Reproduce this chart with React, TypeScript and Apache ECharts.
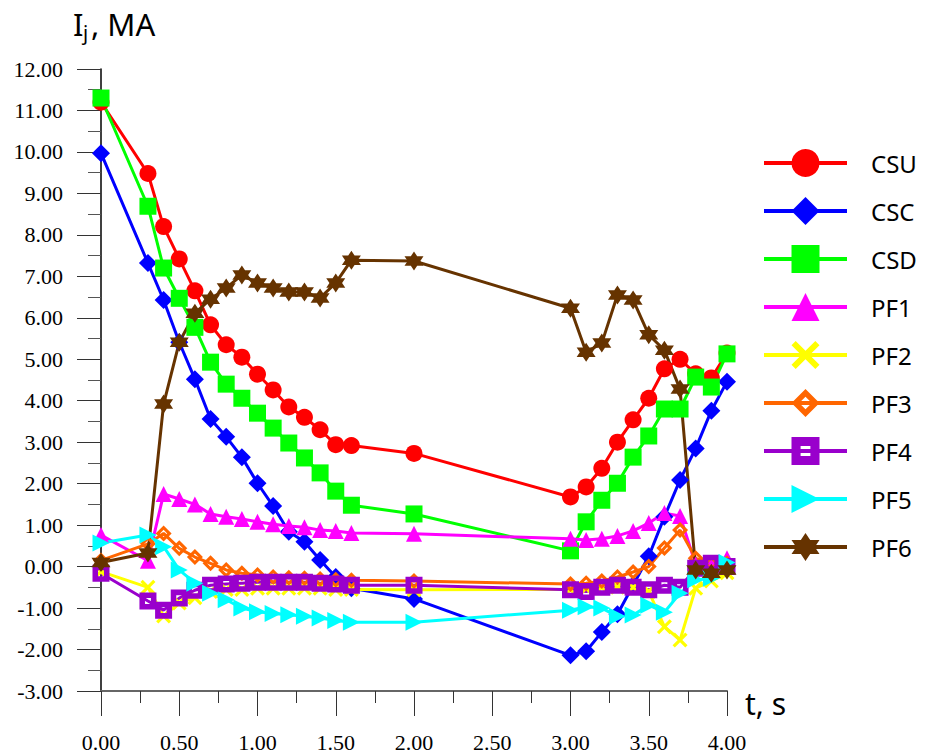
import { useEffect, useRef } from "react";
import * as echarts from "echarts";

const tValues = [0, 0.3, 0.4, 0.5, 0.6, 0.7, 0.8, 0.9, 1.0, 1.1, 1.2, 1.3, 1.4, 1.5, 1.6, 2.0, 3.0, 3.1, 3.2, 3.3, 3.4, 3.5, 3.6, 3.7, 3.8, 3.9, 4.0];

const csu = [11.2, 9.48, 8.2, 7.42, 6.65, 5.83, 5.35, 5.05, 4.64, 4.26, 3.85, 3.6, 3.3, 2.94, 2.92, 2.73, 1.68, 1.92, 2.37, 3.0, 3.54, 4.06, 4.77, 5.0, 4.65, 4.55, 5.15];
const csc = [9.97, 7.32, 6.43, 5.41, 4.52, 3.56, 3.13, 2.64, 2.01, 1.46, 0.84, 0.6, 0.16, -0.25, -0.52, -0.78, -2.14, -2.04, -1.58, -1.15, -0.45, 0.25, 1.2, 2.09, 2.85, 3.76, 4.46];
const csd = [11.3, 8.69, 7.2, 6.47, 5.77, 4.93, 4.4, 4.06, 3.7, 3.34, 2.98, 2.62, 2.26, 1.82, 1.48, 1.27, 0.38, 1.08, 1.6, 2.01, 2.64, 3.15, 3.8, 3.8, 4.57, 4.33, 5.13];
const pf1 = [0.76, 0.14, 1.75, 1.63, 1.5, 1.27, 1.2, 1.15, 1.08, 1.02, 0.98, 0.95, 0.88, 0.86, 0.81, 0.79, 0.67, 0.64, 0.67, 0.74, 0.86, 1.05, 1.29, 1.22, 0.05, 0.05, 0.2];
const pf2 = [-0.12, -0.5, -1.19, -0.88, -0.75, -0.6, -0.55, -0.55, -0.52, -0.52, -0.52, -0.52, -0.52, -0.55, -0.55, -0.56, -0.55, -0.52, -0.5, -0.5, -0.5, -0.6, -1.45, -1.77, -0.52, -0.35, -0.15];
const pf3 = [0.15, 0.55, 0.8, 0.44, 0.23, 0.08, -0.08, -0.16, -0.2, -0.25, -0.27, -0.28, -0.3, -0.32, -0.33, -0.35, -0.42, -0.4, -0.35, -0.25, -0.13, 0.0, 0.45, 0.88, 0.2, 0.08, 0.08];
const pf4 = [-0.16, -0.83, -1.05, -0.76, -0.57, -0.45, -0.42, -0.4, -0.38, -0.38, -0.38, -0.38, -0.4, -0.42, -0.45, -0.45, -0.56, -0.6, -0.5, -0.45, -0.5, -0.56, -0.45, -0.5, -0.04, 0.08, 0.0];
const pf5 = [0.57, 0.76, 0.48, -0.08, -0.4, -0.64, -0.8, -1.0, -1.09, -1.13, -1.16, -1.2, -1.24, -1.3, -1.34, -1.34, -1.05, -0.97, -1.0, -1.2, -1.17, -0.93, -1.1, -0.64, -0.32, -0.28, 0.1];
const pf6 = [0.1, 0.33, 3.92, 5.41, 6.11, 6.45, 6.72, 7.03, 6.84, 6.72, 6.62, 6.62, 6.48, 6.84, 7.39, 7.37, 6.23, 5.17, 5.39, 6.55, 6.43, 5.59, 5.22, 4.28, -0.08, -0.16, -0.08];

const seriesNames = ["CSU", "CSC", "CSD", "PF1", "PF2", "PF3", "PF4", "PF5", "PF6"];
const seriesValues = [csu, csc, csd, pf1, pf2, pf3, pf4, pf5, pf6];
const seriesColors = ["#FF0000", "#0000FF", "#00FF00", "#FF00FF", "#FFFF00", "#FF6600", "#9900CC", "#00FFFF", "#663300"];

const yMin = -3;
const yMax = 12;
const yStep = 1;
const xMin = 0;
const xMax = 4;
const xStep = 0.5;

const X_PATH = "path://M3,0 L10,7 L17,0 L20,3 L13,10 L20,17 L17,20 L10,13 L3,20 L0,17 L7,10 L0,3 Z";
const HOLLOW_DIAMOND = "path://M10,0 L20,10 L10,20 L0,10 Z M10,5.5 L5.5,10 L10,14.5 L14.5,10 Z";
const HOLLOW_SQUARE = "path://M0,0 L20,0 L20,20 L0,20 Z M6.5,6.5 L6.5,13.5 L13.5,13.5 L13.5,6.5 Z";
const RIGHT_TRI = "path://M0,0 L20,10 L0,20 Z";
const STAR6 = "path://M10,0 L12.89,5 L18.66,5 L15.77,10 L18.66,15 L12.89,15 L10,20 L7.11,15 L1.34,15 L4.23,10 L1.34,5 L7.11,5 Z";

const seriesSymbols = ["circle", "diamond", "rect", "triangle", X_PATH, HOLLOW_DIAMOND, HOLLOW_SQUARE, RIGHT_TRI, STAR6];
const seriesSymbolSizes = [17, 18, 17, 16, 15, 16, 17, 17, 19];

export default function App() {
  const ref = useRef<HTMLDivElement>(null);
  useEffect(() => {
    document.body.style.margin = "0";
    const chart = echarts.init(ref.current!, null, { renderer: "svg" });
    const serif = "'Liberation Serif', 'Times New Roman', serif";
    const sans = "'Noto Sans', 'Open Sans', sans-serif";
    const option: any = {
      animation: false,
      backgroundColor: "#ffffff",
      grid: { left: 101, right: 201, top: 69, bottom: 63 },
      xAxis: {
        type: "value",
        min: xMin,
        max: xMax,
        interval: xStep,
        axisLine: { show: true, onZero: false, lineStyle: { color: "#666666", width: 2 } },
        axisTick: { show: true, length: 25, lineStyle: { color: "#333333", width: 1 } },
        minorTick: { show: true, splitNumber: 2, length: 12, lineStyle: { color: "#333333", width: 1 } },
        splitLine: { show: false },
        axisLabel: {
          margin: 40,
          fontFamily: serif,
          fontSize: 22,
          color: "#000000",
          showMinLabel: true,
          showMaxLabel: true,
          formatter: (v: number) => v.toFixed(2),
        },
      },
      yAxis: {
        type: "value",
        min: yMin,
        max: yMax,
        interval: yStep,
        axisLine: { show: true, onZero: false, lineStyle: { color: "#000000", width: 1.5 } },
        axisTick: { show: true, length: 24, lineStyle: { color: "#333333", width: 1 } },
        minorTick: { show: true, splitNumber: 2, length: 13, lineStyle: { color: "#555555", width: 1 } },
        splitLine: { show: false },
        axisLabel: {
          margin: 38,
          fontFamily: serif,
          fontSize: 22,
          color: "#000000",
          showMinLabel: true,
          showMaxLabel: true,
          formatter: (v: number) => v.toFixed(2),
        },
      },
      legend: {
        orient: "vertical",
        left: 757,
        top: 144,
        itemWidth: 83,
        itemHeight: 35,
        itemGap: 20,
        data: seriesNames,
        textStyle: {
          fontFamily: sans,
          fontSize: 24,
          color: "#000000",
          padding: [0, 0, 0, 19],
        },
        lineStyle: { width: 4 },
      },
      series: seriesNames.map((name, i) => ({
        name,
        type: "line",
        data: tValues.map((t, j) => [t, seriesValues[i][j]]),
        symbol: seriesSymbols[i],
        symbolSize: seriesSymbolSizes[i],
        showAllSymbol: true,
        color: seriesColors[i],
        lineStyle: { color: seriesColors[i], width: 3 },
        itemStyle: { color: seriesColors[i] },
      })),
      graphic: [
        { type: "text", x: 73, y: 24, style: { text: "I", fontFamily: sans, fontSize: 31, fill: "#000", verticalAlign: "middle" } },
        { type: "text", x: 83, y: 32, style: { text: "j", fontFamily: sans, fontSize: 20, fill: "#000", verticalAlign: "middle" } },
        { type: "text", x: 91, y: 24, style: { text: ", MA", fontFamily: sans, fontSize: 31, fill: "#000", verticalAlign: "middle" } },
        { type: "text", x: 745, y: 703, style: { text: "t, s", fontFamily: sans, fontSize: 30, fill: "#000", verticalAlign: "middle" } },
      ],
    };
    chart.setOption(option);
    return () => chart.dispose();
  }, []);
  return <div ref={ref} style={{ width: 928, height: 754 }} />;
}
